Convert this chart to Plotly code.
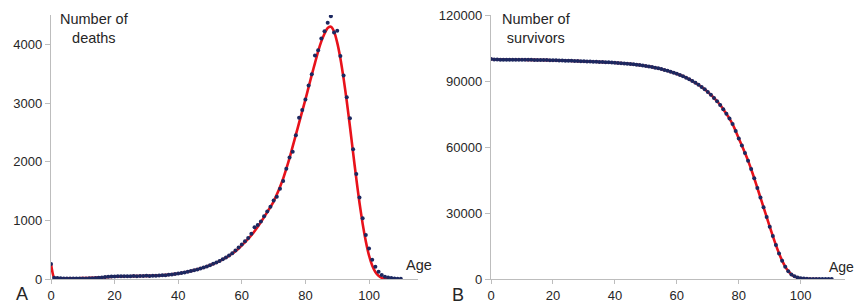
import plotly.graph_objects as go

# ---------------- data ----------------
ages = list(range(0, 111))

deaths = [255, 22, 15, 12, 10, 9, 8, 8, 8, 8,
          9, 10, 11, 13, 16, 20, 26, 33, 40, 42,
          44, 46, 45, 47, 48, 46, 50, 49, 52, 50,
          54, 52, 57, 55, 60, 64, 66, 72, 78, 86,
          95, 104, 112, 125, 136, 150, 163, 178, 196, 214,
          235, 258, 282, 308, 335, 365, 400, 440, 485, 535,
          590, 645, 700, 770, 880, 920, 980, 1070, 1150, 1230,
          1340, 1400, 1540, 1670, 1880, 2070, 2170, 2450, 2750, 2880,
          3060, 3300, 3490, 3810, 3900, 4100, 4225, 4370, 4480, 4200,
          4230, 3800, 3470, 3100, 2740, 2210, 1790, 1390, 1035, 750,
          520, 330, 210, 125, 70, 40, 25, 15, 10, 6,
          4]

fit_ages = list(range(0, 107))
deaths_fit = [255, 18, 14, 12, 11, 11, 11, 12, 13, 14,
              15, 17, 18, 20, 22, 25, 27, 30, 33, 36,
              39, 42, 44, 46, 47, 48, 49, 50, 51, 52,
              53, 54, 56, 58, 61, 64, 68, 73, 79, 86,
              94, 103, 113, 124, 136, 149, 163, 178, 195, 213,
              233, 255, 279, 305, 333, 364, 398, 435, 475, 519,
              575, 625, 682, 745, 815, 890, 970, 1055, 1140, 1228,
              1320, 1440, 1570, 1710, 1880, 2060, 2260, 2460, 2660, 2860,
              3060, 3270, 3480, 3680, 3880, 4050, 4180, 4280, 4300, 4220,
              4030, 3760, 3420, 3030, 2600, 2150, 1710, 1300, 940, 640,
              400, 230, 120, 55, 22, 8, 2]

survivors = [100000, 99745, 99723, 99708, 99696, 99686, 99677, 99669, 99661, 99653,
             99645, 99636, 99626, 99615, 99602, 99586, 99566, 99540, 99507, 99467,
             99425, 99381, 99335, 99290, 99243, 99195, 99149, 99099, 99050, 98998,
             98948, 98894, 98842, 98785, 98730, 98670, 98606, 98540, 98468, 98390,
             98304, 98209, 98105, 97993, 97868, 97732, 97582, 97419, 97241, 97045,
             96831, 96596, 96338, 96056, 95748, 95413, 95048, 94648, 94208, 93723,
             93300, 92750, 92150, 91500, 90800, 90000, 89200, 88300, 87300, 86200,
             85000, 83700, 82300, 80800, 79100, 77200, 75100, 72900, 70400, 67300,
             63900, 60700, 57300, 53800, 50000, 45800, 41400, 37000, 32600, 28200,
             23800, 19500, 15400, 11600, 8300, 5600, 3500, 2100, 1200, 650,
             350, 190, 100, 50, 25, 12, 6, 3, 2, 1,
             0]

surv_fit = [100000, 99760, 99735, 99718, 99704, 99692, 99681, 99670, 99660, 99650,
            99640, 99629, 99617, 99604, 99589, 99572, 99550, 99524, 99493, 99458,
            99420, 99378, 99334, 99289, 99242, 99195, 99147, 99098, 99048, 98997,
            98945, 98892, 98838, 98782, 98724, 98664, 98601, 98534, 98462, 98384,
            98300, 98208, 98106, 97994, 97871, 97736, 97588, 97425, 97246, 97050,
            96836, 96600, 96340, 96056, 95748, 95413, 95048, 94648, 94208, 93750,
            93300, 92750, 92150, 91500, 90800, 90000, 89200, 88300, 87300, 86200,
            85000, 83700, 82300, 80800, 79100, 77200, 75100, 72900, 70400, 67300,
            63900, 60700, 57300, 53800, 49900, 45800, 41400, 37000, 32600, 28200,
            23800, 19500, 15400, 11650, 8350, 5650, 3550, 2100, 1150, 600,
            300, 140, 60, 25, 10, 4, 1]

x_ticks = [0, 20, 40, 60, 80, 100]
deaths_ticks = [0, 1000, 2000, 3000, 4000]
surv_ticks = [0, 30000, 60000, 90000, 120000]

# ---------------- styles ----------------
RED = "#e8121b"
NAVY = "#1c2860"
AXIS = "#bdbdbd"
FONT = "Liberation Sans, Arial, sans-serif"
TXT = "#262626"

fig = go.Figure()

fig.add_trace(go.Scatter(x=fit_ages, y=deaths_fit, mode="lines",
                         line=dict(color=RED, width=2.6, shape="spline", smoothing=0.6),
                         xaxis="x", yaxis="y", hoverinfo="skip"))
fig.add_trace(go.Scatter(x=ages, y=deaths, mode="markers",
                         marker=dict(color=NAVY, size=4),
                         xaxis="x", yaxis="y"))

fig.add_trace(go.Scatter(x=fit_ages, y=surv_fit, mode="lines",
                         line=dict(color=RED, width=2.6, shape="spline", smoothing=0.6),
                         xaxis="x2", yaxis="y2", hoverinfo="skip"))
fig.add_trace(go.Scatter(x=ages, y=survivors, mode="markers",
                         marker=dict(color=NAVY, size=4),
                         xaxis="x2", yaxis="y2"))

W, H = 856, 306
yd = [27 / H, 291 / H]

common_x = dict(showgrid=False, zeroline=False, showline=True, linecolor=AXIS, linewidth=1.3,
                ticks="outside", tickcolor=AXIS, ticklen=4, tickwidth=1.3, automargin=False,
                tickvals=x_ticks, ticktext=[str(v) for v in x_ticks],
                tickfont=dict(family=FONT, size=13, color=TXT))
common_y = dict(showgrid=False, zeroline=False, showline=True, linecolor=AXIS, linewidth=1.3,
                ticks="outside", tickcolor=AXIS, ticklen=5, tickwidth=1.3, automargin=False,
                tickfont=dict(family=FONT, size=13, color=TXT))

fig.update_layout(
    width=W, height=H,
    margin=dict(l=0, r=0, t=0, b=0, autoexpand=False),
    paper_bgcolor="white", plot_bgcolor="white",
    showlegend=False,
    xaxis=dict(domain=[51 / W, 418 / W], range=[0, 115.4], anchor="y", **common_x),
    yaxis=dict(domain=yd, range=[0, 4500], anchor="x", tickvals=deaths_ticks,
               ticktext=[str(v) for v in deaths_ticks], **common_y),
    xaxis2=dict(domain=[491 / W, 845 / W], range=[0, 114.3], anchor="y2", **common_x),
    yaxis2=dict(domain=yd, range=[0, 120000], anchor="x2", tickvals=surv_ticks,
                ticktext=[str(v) for v in surv_ticks], **common_y),
)

def ann(text, x, y, size=14.5, xanchor="center"):
    fig.add_annotation(text=text, x=x / W, y=1 - y / H, xref="paper", yref="paper",
                       showarrow=False, xanchor=xanchor, yanchor="middle", align="center",
                       font=dict(family=FONT, size=size, color=TXT))

ann("Number of<br>deaths", 94, 28)
ann("Number of<br>survivors", 536, 28)
ann("Age", 404, 265, xanchor="left")
ann("Age", 827, 267, size=14, xanchor="left")
ann("A", 22, 294, size=18)
ann("B", 458, 295, size=18)

fig.write_html("out.html", config={"displayModeBar": False},
               post_script="document.body.style.margin='0';document.body.style.overflow='hidden';")
